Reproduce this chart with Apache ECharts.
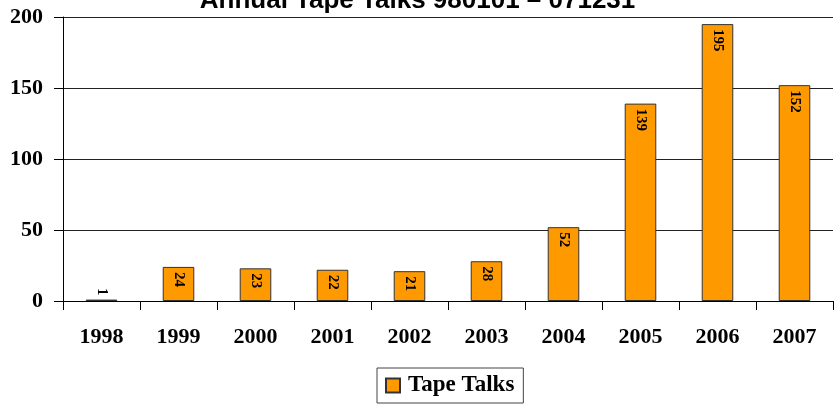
<!DOCTYPE html>
<html><head><meta charset="utf-8">
<script src="https://cdn.jsdelivr.net/npm/echarts@6/dist/echarts.min.js"></script>
<style>html,body{margin:0;padding:0;background:#fff}#c{width:835px;height:404px}</style>
</head><body><div id="c"></div>
<script>
var categories = ['1998','1999','2000','2001','2002','2003','2004','2005','2006','2007'];
var tapeTalks = [1, 24, 23, 22, 21, 28, 52, 139, 195, 152];
var yTicks = [0, 50, 100, 150, 200];

var chart = echarts.init(document.getElementById('c'));
var serif = '"Liberation Serif","Times New Roman",serif';
var data = tapeTalks.map(function(v){
  if (v < 10) return {value: v, label: {position: 'top', align: 'right', distance: 4}};
  return v;
});
chart.setOption({
  animation: false,
  title: {
    text: 'Annual Tape Talks 980101 \u2013 071231',
    left: 'center', top: -17,
    textStyle: {fontFamily: '"Liberation Sans",Arial,sans-serif', fontWeight: 'bold', fontSize: 26, color: '#000'}
  },
  legend: {
    top: 368, left: 377,
    data: ['Tape Talks'],
    borderColor: '#444', borderWidth: 1, padding: [6, 9, 6, 8],
    itemWidth: 14, itemHeight: 14,
    icon: 'rect',
    textStyle: {fontFamily: serif, fontWeight: 'bold', fontSize: 23, color: '#000', padding: [0, 0, 0, 3]}
  },
  grid: {left: 63, right: 2, top: 17, bottom: 103},
  xAxis: {
    type: 'category', data: categories,
    axisLine: {lineStyle: {color: '#000', width: 1}},
    axisTick: {show: true, length: 9, lineStyle: {color: '#000'}},
    axisLabel: {margin: 25, fontFamily: serif, fontWeight: 'bold', fontSize: 22, color: '#000'}
  },
  yAxis: {
    type: 'value', min: yTicks[0], max: yTicks[yTicks.length-1], interval: 50,
    axisLine: {show: true, lineStyle: {color: '#000'}},
    axisTick: {show: true, length: 9, lineStyle: {color: '#000'}},
    splitLine: {lineStyle: {color: '#222', width: 1}},
    axisLabel: {margin: 20, fontFamily: serif, fontWeight: 'bold', fontSize: 22, color: '#000'}
  },
  series: [{
    name: 'Tape Talks', type: 'bar', data: data,
    barWidth: '41%',
    itemStyle: {color: '#FF9900', borderColor: '#333', borderWidth: 1},
    label: {
      show: true, position: 'insideTop', rotate: -90, align: 'left', verticalAlign: 'middle',
      distance: 5,
      fontFamily: serif, fontWeight: 'bold', fontSize: 15, color: '#000'
    }
  }]
});
</script></body></html>
